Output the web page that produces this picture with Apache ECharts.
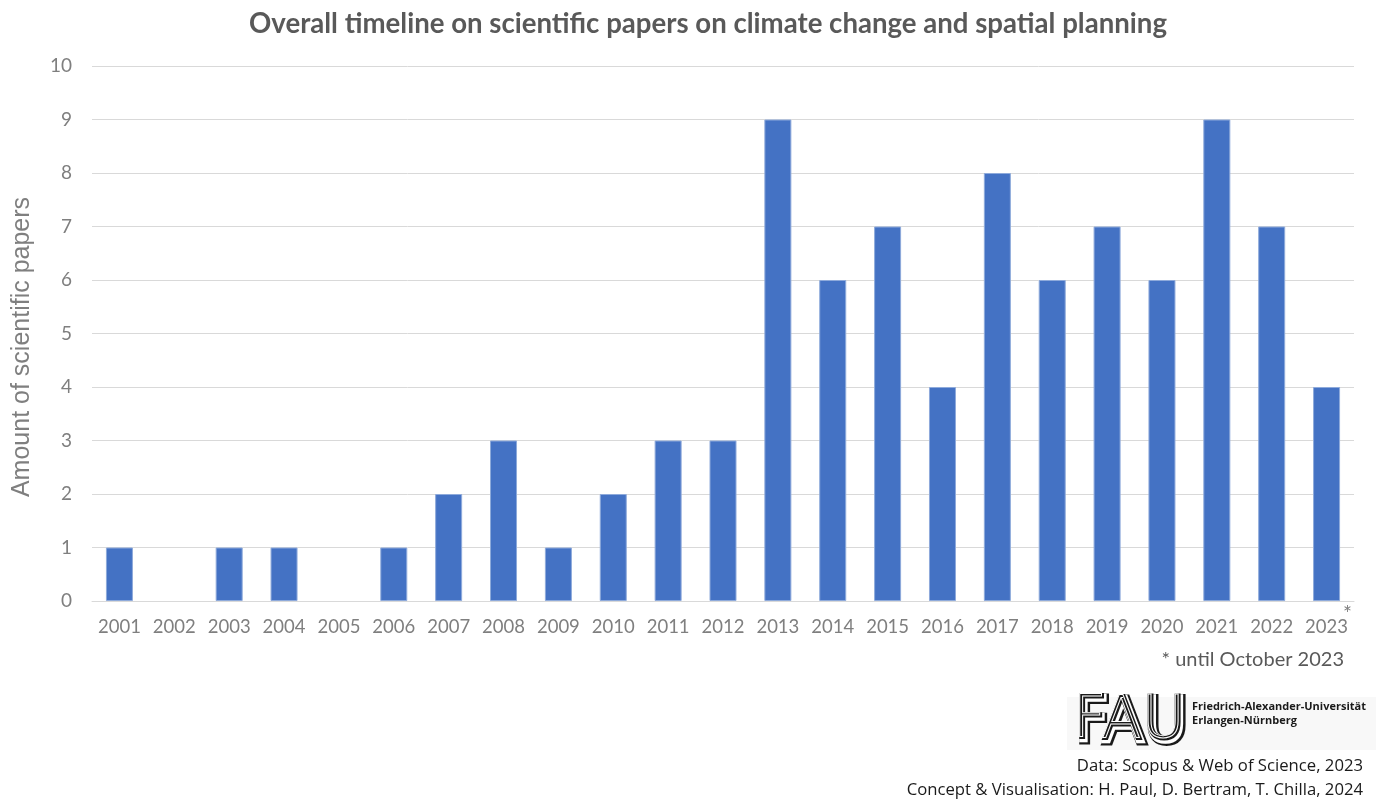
<!DOCTYPE html>
<html>
<head>
<meta charset="utf-8">
<script src="https://cdn.jsdelivr.net/npm/echarts@6/dist/echarts.min.js"></script>
<style>
  html, body { margin: 0; padding: 0; background: #fff; }
  #chart { width: 1379px; height: 800px; }
</style>
</head>
<body>
<div id="chart"></div>
<script>
// Publication years and number of papers per year
const years = ['2001','2002','2003','2004','2005','2006','2007','2008','2009','2010','2011','2012',
               '2013','2014','2015','2016','2017','2018','2019','2020','2021','2022','2023'];
const papers = [1, 0, 1, 1, 0, 1, 2, 3, 1, 2, 3, 3, 9, 6, 7, 4, 8, 6, 7, 6, 9, 7, 4];
const yTicks = [0, 10, 1]; // min, max, interval

const titleText = 'Overall timeline on scientific papers on climate change and spatial planning';
const yAxisName = 'Amount of scientific papers';
const footnote = '* until October 2023';
const sourceLines = ['Data: Scopus & Web of Science, 2023',
                     'Concept & Visualisation: H. Paul, D. Bertram, T. Chilla, 2024'];
const uniName = ['Friedrich-Alexander-Universität', 'Erlangen-Nürnberg'];

const chart = echarts.init(document.getElementById('chart'));

// Layered strokes give the striped outline look of the logo lettering
function logoLayer(width, color) {
  return {
    type: 'text', left: 1072, top: 692, z: 10,
    style: {
      text: 'FAU', font: '300 59px "DejaVu Sans"',
      fill: 'transparent', stroke: color, lineWidth: width
    }
  };
}

// Empty years get no outline, so nothing shows on the baseline
const barData = papers.map(v => v === 0
  ? { value: v, itemStyle: { borderWidth: 0 } }
  : v);

chart.setOption({
  animation: false,
  title: {
    text: titleText,
    left: 244, top: 5,
    textStyle: { fontFamily: 'Lato', fontWeight: 'bold', fontSize: 27.6, color: '#595959' }
  },
  grid: { left: 92, right: 25, top: 66, bottom: 199, containLabel: false },
  xAxis: {
    type: 'category',
    data: years,
    axisLine: { lineStyle: { color: '#d9d9d9', width: 1 } },
    axisTick: { show: false },
    axisLabel: { interval: 0, color: '#7f7f7f', fontFamily: 'Lato', fontSize: 18.5, margin: 17 },
    z: 3
  },
  yAxis: {
    type: 'value',
    min: yTicks[0], max: yTicks[1], interval: yTicks[2],
    axisLine: { show: false },
    axisTick: { show: false },
    axisLabel: { color: '#7f7f7f', fontFamily: 'Lato', fontSize: 19, margin: 20 },
    splitLine: { lineStyle: { color: '#d9d9d9', width: 1 } }
  },
  series: [{
    type: 'bar',
    data: barData,
    barWidth: 27,
    itemStyle: { color: '#4472c4', borderColor: '#8eaadb', borderWidth: 1 },
    z: 2
  }],
  graphic: [
    { type: 'text', x: 22, y: 347, rotation: Math.PI / 2,
      style: { text: yAxisName, font: '25px "Liberation Sans"', fill: '#7f7f7f',
               align: 'center', verticalAlign: 'middle' } },
    { type: 'text', left: 1343, top: 604,
      style: { text: '*', font: '21px Lato', fill: '#7f7f7f' } },
    { type: 'text', right: 35, top: 650,
      style: { text: footnote, font: '20px Lato', fill: '#595959' } },
    { type: 'rect', left: 1067, top: 697, z: 1,
      shape: { width: 309, height: 53 }, style: { fill: '#f8f8f8' } },
    logoLayer(8, '#1a1a1a'),
    logoLayer(5.5, '#ffffff'),
    logoLayer(3, '#1a1a1a'),
    logoLayer(1, '#ffffff'),
    { type: 'text', left: 1192, top: 701, z: 10,
      style: { text: uniName[0], font: 'bold 11px "Open Sans"', fill: '#1a1a1a' } },
    { type: 'text', left: 1192, top: 715, z: 10,
      style: { text: uniName[1], font: 'bold 11px "Open Sans"', fill: '#1a1a1a' } },
    { type: 'text', right: 16, top: 758,
      style: { text: sourceLines[0], font: '16.7px "Open Sans"', fill: '#1a1a1a' } },
    { type: 'text', right: 16, top: 782,
      style: { text: sourceLines[1], font: '16.7px "Open Sans"', fill: '#1a1a1a' } }
  ]
});
</script>
</body>
</html>
